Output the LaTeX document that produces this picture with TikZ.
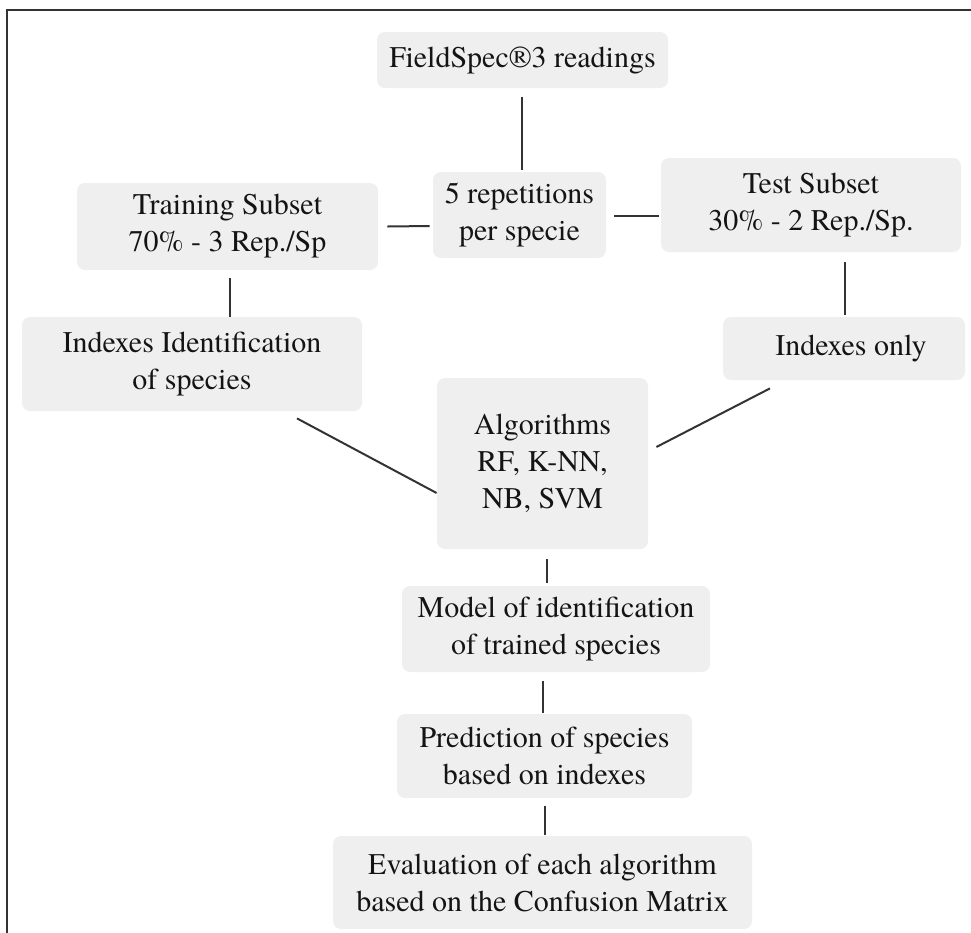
\documentclass[tikz,border=0pt]{standalone}
\usepackage{fontspec}
\setmainfont{texgyretermes}[Extension=.otf, UprightFont=*-regular, BoldFont=*-bold, ItalicFont=*-italic, BoldItalicFont=*-bolditalic]
\definecolor{boxgray}{HTML}{EFEFEF}
\definecolor{linegray}{HTML}{333333}
\definecolor{textgray}{HTML}{141414}
\begin{document}
\begin{tikzpicture}[x=0.5pt,y=-0.5pt,
  box/.style={fill=boxgray, rounded corners=4pt, align=center, inner sep=0pt,
    text=textgray, font=\fontsize{15}{18.5}\selectfont},
  conn/.style={draw=linegray, line width=1pt},
  frameline/.style={draw=linegray, line width=1pt}]
\useasboundingbox (0,0) rectangle (971,933);
% frame
\coordinate (fbl) at (7,933);
\coordinate (fc) at (7,10);
\coordinate (ftr) at (971,10);
\draw[frameline] (fbl) -- (fc) -- (ftr);
% nodes
\node[box, minimum width=145.5pt, minimum height=28pt] (fs) at (522.5,60) {FieldSpec®3 readings};
\node[box, minimum width=86.5pt, minimum height=43pt] (rep) at (519.5,215) {5 repetitions\\per specie};
\node[box, minimum width=150.5pt, minimum height=43.5pt] (train) at (227.5,226.5) {Training Subset\\70\% - 3 Rep./Sp};
\node[box, minimum width=150pt, minimum height=47pt] (test) at (811,205) {Test Subset\\30\% - 2 Rep./Sp.};
\node[box, minimum width=170pt, minimum height=47pt] (idid) at (192,364) {Indexes Identification\\of species};
\node[box, minimum width=121pt, minimum height=31.5pt] (idonly) at (844,348.5) {\hspace*{7pt}Indexes only};
\node[box, minimum width=105.5pt, minimum height=85.5pt] (algo) at (542.5,463.5) {Algorithms\\RF, K-NN,\\NB, SVM};
\node[box, minimum width=154pt, minimum height=43pt] (model) at (556,629) {Model of identification\\of trained species};
\node[box, minimum width=147.5pt, minimum height=42pt] (pred) at (544.5,756) {Prediction of species\\based on indexes};
\node[box, minimum width=209.5pt, minimum height=46.5pt] (eval) at (542.5,882.5) {Evaluation of each algorithm\\based on the Confusion Matrix};
% connectors
\draw[conn] ([shift={(-0.5,9)}]fs.south) -- ([shift={(2.5,-2)}]rep.north);
\draw[conn] ([shift={(9,0)}]train.east) -- ([shift={(-3,11)}]rep.west);
\draw[conn] ([shift={(8,1)}]rep.east) -- ([shift={(-2,11)}]test.west);
\draw[conn] ([shift={(2.5,8)}]train.south) -- ([shift={(38,0)}]idid.north);
\draw[conn] ([shift={(34,10)}]test.south) -- ([shift={(1,-2)}]idonly.north);
\draw[conn] ([shift={(105,7)}]idid.south) -- ([shift={(0,29.5)}]algo.west);
\draw[conn] ([shift={(-74,8)}]idonly.south) -- ([shift={(8,-16.5)}]algo.east);
\draw[conn] ([shift={(4.5,10)}]algo.south) -- ([shift={(-9,-3)}]model.north);
\draw[conn] ([shift={(-13,9)}]model.south) -- ([shift={(-1.5,-1)}]pred.north);
\draw[conn] ([shift={(0.5,8)}]pred.south) -- ([shift={(2.5,-1)}]eval.north);
\end{tikzpicture}
\end{document}
